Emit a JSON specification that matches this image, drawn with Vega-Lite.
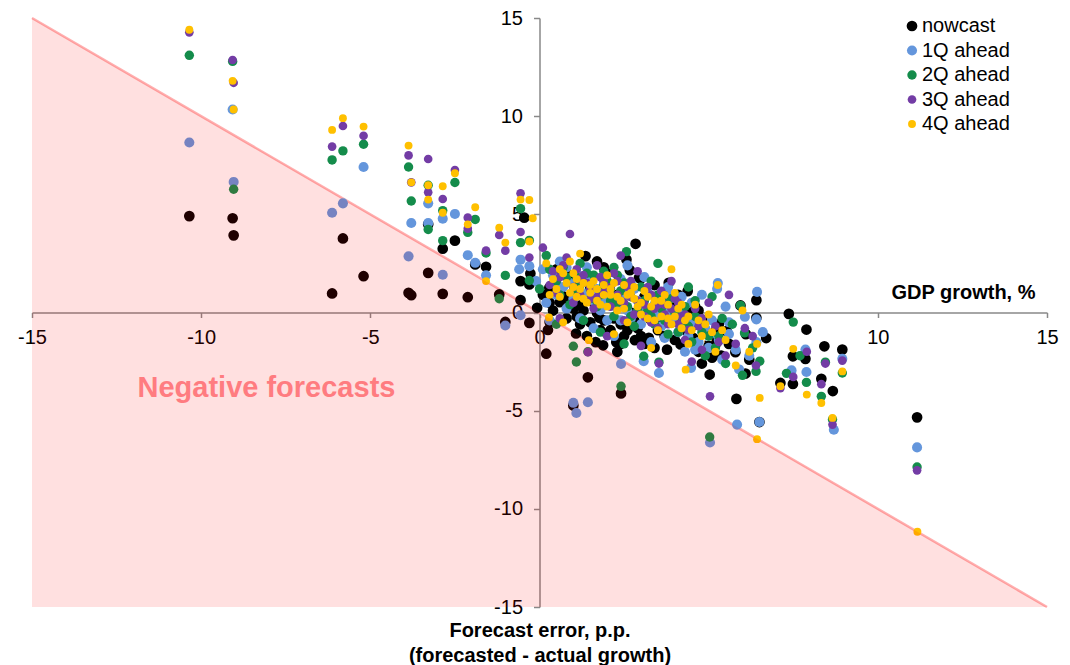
{
"$schema":"https://vega.github.io/schema/vega-lite/v6.json",
"width":1015,"height":589,
"autosize":{"type":"none"},
"padding":{"left":32,"top":18,"right":23,"bottom":58},
"background":"#ffffff",
"config":{"view":{"stroke":null},
"axis":{"grid":false,"domainColor":"#898989","tickColor":"#898989","domainWidth":1.5,"tickWidth":1.5,"tickSize":5,"labelFont":"Liberation Sans","labelFontSize":20,"labelColor":"#000000","labelPadding":10,"labelFlush":false,"labelOverlap":false,"labelBound":false,"labelExpr":"replace(datum.label, '\u2212', '-')","titleFont":"Liberation Sans","titleFontSize":20,"titleFontWeight":"bold","titleColor":"#000000"},
"legend":{"labelFont":"Liberation Sans","labelFontSize":20,"labelColor":"#000000"}},
"encoding":{
"x":{"field":"x","type":"quantitative","scale":{"domain":[-15,15],"nice":false,"zero":false},
 "axis":{"orient":"bottom","zindex":0,"offset":-294.5,"values":[-15,-10,-5,0,5,10,15],"title":"GDP growth, %","titleX":1003,"titleY":-20,"titleAlign":"right","titleBaseline":"middle","titleAnchor":null}},
"y":{"field":"y","type":"quantitative","scale":{"domain":[-15,15],"nice":false,"zero":false},
 "axis":{"orient":"left","zindex":0,"offset":-507.5,"values":[-15,-10,-5,0,5,10,15],"tickSize":6,"labelPadding":11,"title":["Forecast error, p.p.","(forecasted - actual growth)"],"titleAngle":0,"titleX":0,"titleY":602,"titleAlign":"center","titleBaseline":"top","titleLineHeight":25,"titleAnchor":null}}
},
"layer":[
{"data":{"values":[{"x":-15,"y":15},{"x":15,"y":-15}]},
 "mark":{"type":"line","color":"#ffb0b0","strokeWidth":2.5}},
{"data":{"values":[
{"series":"nowcast","x":-10.35,"y":4.91},{"series":"nowcast","x":-9.07,"y":4.8},{"series":"nowcast","x":-9.04,"y":3.93},{"series":"nowcast","x":-6.13,"y":0.97},{"series":"nowcast","x":-5.81,"y":3.77},{"series":"nowcast","x":-5.2,"y":1.85},{"series":"nowcast","x":-3.87,"y":1.0},{"series":"nowcast","x":-3.79,"y":0.88},{"series":"nowcast","x":-3.29,"y":4.49},{"series":"nowcast","x":-3.29,"y":2.02},{"series":"nowcast","x":-2.86,"y":3.25},{"series":"nowcast","x":-2.86,"y":0.95},{"series":"nowcast","x":-2.5,"y":3.66},{"series":"nowcast","x":-2.12,"y":0.78},{"series":"nowcast","x":-1.9,"y":2.45},{"series":"nowcast","x":-1.58,"y":2.33},{"series":"nowcast","x":-1.19,"y":0.92},{"series":"nowcast","x":-1.01,"y":-0.48},{"series":"nowcast","x":-0.45,"y":4.83},{"series":"nowcast","x":-0.56,"y":1.6},{"series":"nowcast","x":-0.56,"y":0.63},{"series":"nowcast","x":-0.3,"y":-0.53},{"series":"nowcast","x":-0.3,"y":1.43},{"series":"nowcast","x":-0.27,"y":1.99},{"series":"nowcast","x":-0.07,"y":0.24},{"series":"nowcast","x":0.3,"y":-0.49},{"series":"nowcast","x":0.25,"y":-0.89},{"series":"nowcast","x":0.2,"y":-2.1},
{"series":"nowcast","x":0.29,"y":1.26},{"series":"nowcast","x":0.6,"y":0.53},{"series":"nowcast","x":0.74,"y":0.8},{"series":"nowcast","x":1.08,"y":-1.07},{"series":"nowcast","x":1.21,"y":0.36},{"series":"nowcast","x":1.36,"y":2.87},{"series":"nowcast","x":1.39,"y":0.66},{"series":"nowcast","x":1.66,"y":-1.51},{"series":"nowcast","x":1.7,"y":-0.02},{"series":"nowcast","x":1.77,"y":-0.27},{"series":"nowcast","x":1.88,"y":-1.67},{"series":"nowcast","x":2.0,"y":-1.07},{"series":"nowcast","x":2.27,"y":-1.51},{"series":"nowcast","x":2.57,"y":2.7},{"series":"nowcast","x":2.67,"y":2.16},{"series":"nowcast","x":2.82,"y":-1.41},{"series":"nowcast","x":2.84,"y":3.5},{"series":"nowcast","x":2.94,"y":1.77},{"series":"nowcast","x":2.99,"y":1.72},{"series":"nowcast","x":3.23,"y":-1.29},{"series":"nowcast","x":3.28,"y":-0.36},{"series":"nowcast","x":3.67,"y":1.0},{"series":"nowcast","x":3.77,"y":-1.89},{"series":"nowcast","x":3.82,"y":1.51},{"series":"nowcast","x":4.17,"y":-1.63},{"series":"nowcast","x":4.38,"y":1.09},{"series":"nowcast","x":4.44,"y":-0.02},{"series":"nowcast","x":4.54,"y":-1.29},{"series":"nowcast","x":4.81,"y":-0.36},{"series":"nowcast","x":5.03,"y":-3.16},{"series":"nowcast","x":5.2,"y":-0.95},{"series":"nowcast","x":5.23,"y":-1.55},{"series":"nowcast","x":5.37,"y":-2.19},{"series":"nowcast","x":5.53,"y":-0.95},{"series":"nowcast","x":5.79,"y":-2.02},{"series":"nowcast","x":5.82,"y":-4.4},{"series":"nowcast","x":5.94,"y":0.36},{"series":"nowcast","x":6.09,"y":-3.11},{"series":"nowcast","x":6.41,"y":0.63},{"series":"nowcast","x":6.41,"y":-0.27},{"series":"nowcast","x":6.5,"y":-5.58},{"series":"nowcast","x":7.12,"y":-3.59},{"series":"nowcast","x":7.37,"y":-0.07},{"series":"nowcast","x":7.49,"y":-2.23},{"series":"nowcast","x":7.49,"y":-3.64},{"series":"nowcast","x":7.86,"y":-2.36},{"series":"nowcast","x":7.89,"y":-0.87},{"series":"nowcast","x":8.33,"y":-3.38},{"series":"nowcast","x":8.42,"y":-1.72},{"series":"nowcast","x":8.67,"y":-4.0},{"series":"nowcast","x":8.95,"y":-1.89},{"series":"nowcast","x":11.16,"y":-5.34},{"series":"nowcast","x":1.43,"y":-3.3},{"series":"nowcast","x":2.41,"y":-4.12},{"series":"nowcast","x":1.0,"y":-4.74},{"series":"nowcast","x":0.9,"y":1.9},{"series":"nowcast","x":1.5,"y":1.3},{"series":"nowcast","x":2.2,"y":0.4},{"series":"nowcast","x":2.4,"y":-0.6},{"series":"nowcast","x":3.0,"y":0.3},{"series":"nowcast","x":3.5,"y":-0.9},{"series":"nowcast","x":4.0,"y":0.4},{"series":"nowcast","x":1.9,"y":2.3},{"series":"nowcast","x":0.5,"y":2.2},{"series":"nowcast","x":3.1,"y":-1.6},{"series":"nowcast","x":4.7,"y":-2.0},{"series":"nowcast","x":6.1,"y":-1.1},
{"series":"nowcast","x":0.8,"y":-0.3},{"series":"nowcast","x":1.0,"y":0.2},{"series":"nowcast","x":1.2,"y":-0.6},{"series":"nowcast","x":1.4,"y":-1.2},{"series":"nowcast","x":1.6,"y":0.5},{"series":"nowcast","x":1.9,"y":-0.4},{"series":"nowcast","x":2.1,"y":-0.9},{"series":"nowcast","x":2.3,"y":0.9},{"series":"nowcast","x":2.5,"y":-1.2},{"series":"nowcast","x":2.7,"y":0.0},{"series":"nowcast","x":2.9,"y":-0.8},{"series":"nowcast","x":3.1,"y":0.8},{"series":"nowcast","x":3.3,"y":-0.2},{"series":"nowcast","x":3.5,"y":0.5},{"series":"nowcast","x":3.7,"y":-1.2},{"series":"nowcast","x":3.9,"y":-0.5},{"series":"nowcast","x":4.1,"y":0.9},{"series":"nowcast","x":4.3,"y":-0.9},{"series":"nowcast","x":4.6,"y":0.3},{"series":"nowcast","x":4.9,"y":-1.0},{"series":"nowcast","x":5.1,"y":-2.3},{"series":"nowcast","x":5.6,"y":-1.6},{"series":"nowcast","x":6.2,"y":-2.4},{"series":"nowcast","x":0.4,"y":0.1},{"series":"nowcast","x":0.1,"y":0.9},{"series":"nowcast","x":1.1,"y":1.6},{"series":"nowcast","x":2.0,"y":2.0},{"series":"nowcast","x":3.4,"y":1.4},{"series":"nowcast","x":4.8,"y":-2.6},{"series":"nowcast","x":6.7,"y":-1.3},
{"series":"nowcast","x":0.6,"y":1.1},{"series":"nowcast","x":0.9,"y":0.6},{"series":"nowcast","x":1.3,"y":0.1},{"series":"nowcast","x":1.5,"y":-0.5},{"series":"nowcast","x":1.8,"y":-0.9},{"series":"nowcast","x":2.2,"y":-0.3},{"series":"nowcast","x":2.4,"y":-1.6},{"series":"nowcast","x":2.6,"y":-0.9},{"series":"nowcast","x":2.8,"y":-0.4},{"series":"nowcast","x":3.0,"y":-1.2},{"series":"nowcast","x":3.2,"y":0.0},{"series":"nowcast","x":3.4,"y":-1.8},{"series":"nowcast","x":3.6,"y":-0.4},{"series":"nowcast","x":3.8,"y":0.2},{"series":"nowcast","x":4.0,"y":-1.4},{"series":"nowcast","x":4.2,"y":-0.5},{"series":"nowcast","x":4.5,"y":-0.7},{"series":"nowcast","x":4.7,"y":0.1},{"series":"nowcast","x":5.0,"y":-1.7},{"series":"nowcast","x":5.3,"y":-0.6},{"series":"nowcast","x":0.3,"y":0.5},{"series":"nowcast","x":1.1,"y":-0.2},{"series":"nowcast","x":2.0,"y":0.8},{"series":"nowcast","x":1.7,"y":2.6},{"series":"nowcast","x":2.3,"y":-2.0},
{"series":"1Q ahead","x":-10.35,"y":8.66},{"series":"1Q ahead","x":-9.07,"y":10.34},{"series":"1Q ahead","x":-9.04,"y":6.65},{"series":"1Q ahead","x":-6.13,"y":5.08},{"series":"1Q ahead","x":-5.81,"y":5.56},{"series":"1Q ahead","x":-5.2,"y":7.41},{"series":"1Q ahead","x":-3.87,"y":2.86},{"series":"1Q ahead","x":-3.79,"y":4.56},{"series":"1Q ahead","x":-3.29,"y":5.56},{"series":"1Q ahead","x":-3.29,"y":4.56},{"series":"1Q ahead","x":-2.86,"y":4.78},{"series":"1Q ahead","x":-2.86,"y":1.92},{"series":"1Q ahead","x":-2.5,"y":5.02},{"series":"1Q ahead","x":-2.12,"y":2.92},{"series":"1Q ahead","x":-1.9,"y":2.53},{"series":"1Q ahead","x":-1.58,"y":1.9},{"series":"1Q ahead","x":-1.01,"y":-0.66},{"series":"1Q ahead","x":-0.56,"y":2.69},{"series":"1Q ahead","x":-0.56,"y":-0.14},{"series":"1Q ahead","x":-0.3,"y":2.36},{"series":"1Q ahead","x":-0.6,"y":2.2},
{"series":"1Q ahead","x":0.1,"y":2.2},{"series":"1Q ahead","x":0.4,"y":1.9},{"series":"1Q ahead","x":0.6,"y":2.6},{"series":"1Q ahead","x":0.9,"y":1.5},{"series":"1Q ahead","x":1.1,"y":2.0},{"series":"1Q ahead","x":1.3,"y":0.9},{"series":"1Q ahead","x":1.5,"y":1.7},{"series":"1Q ahead","x":1.7,"y":1.2},{"series":"1Q ahead","x":1.9,"y":0.5},{"series":"1Q ahead","x":2.1,"y":1.4},{"series":"1Q ahead","x":2.3,"y":0.2},{"series":"1Q ahead","x":2.5,"y":0.9},{"series":"1Q ahead","x":2.7,"y":-0.3},{"series":"1Q ahead","x":2.9,"y":0.6},{"series":"1Q ahead","x":3.1,"y":1.8},{"series":"1Q ahead","x":3.2,"y":-0.1},{"series":"1Q ahead","x":3.4,"y":0.4},{"series":"1Q ahead","x":3.6,"y":-0.7},{"series":"1Q ahead","x":3.8,"y":1.3},{"series":"1Q ahead","x":4.0,"y":-0.4},{"series":"1Q ahead","x":4.2,"y":0.1},{"series":"1Q ahead","x":4.4,"y":-1.2},{"series":"1Q ahead","x":4.6,"y":-0.6},{"series":"1Q ahead","x":4.8,"y":0.9},{"series":"1Q ahead","x":5.0,"y":-1.8},{"series":"1Q ahead","x":5.25,"y":1.21},{"series":"1Q ahead","x":5.27,"y":1.5},{"series":"1Q ahead","x":5.4,"y":-2.4},{"series":"1Q ahead","x":5.6,"y":-1.1},{"series":"1Q ahead","x":5.9,"y":-2.9},{"series":"1Q ahead","x":6.07,"y":-0.22},{"series":"1Q ahead","x":6.43,"y":1.05},{"series":"1Q ahead","x":6.41,"y":-1.51},{"series":"1Q ahead","x":6.41,"y":-0.35},{"series":"1Q ahead","x":7.86,"y":-1.89},{"series":"1Q ahead","x":7.89,"y":-3.03},{"series":"1Q ahead","x":7.45,"y":-2.95},{"series":"1Q ahead","x":8.95,"y":-2.36},{"series":"1Q ahead","x":8.7,"y":-5.97},{"series":"1Q ahead","x":5.84,"y":-5.71},{"series":"1Q ahead","x":5.04,"y":-6.62},{"series":"1Q ahead","x":6.5,"y":-5.58},{"series":"1Q ahead","x":11.16,"y":-6.87},{"series":"1Q ahead","x":1.43,"y":-4.57},{"series":"1Q ahead","x":1.0,"y":-4.6},{"series":"1Q ahead","x":1.09,"y":-5.12},{"series":"1Q ahead","x":2.41,"y":-2.62},{"series":"1Q ahead","x":3.08,"y":-2.48},{"series":"1Q ahead","x":3.53,"y":-3.08},{"series":"1Q ahead","x":4.48,"y":-2.82},{"series":"1Q ahead","x":0.3,"y":-0.4},{"series":"1Q ahead","x":1.6,"y":-0.8},{"series":"1Q ahead","x":2.2,"y":-1.2},{"series":"1Q ahead","x":3.3,"y":-1.5},{"series":"1Q ahead","x":4.3,"y":-2.0},{"series":"1Q ahead","x":5.5,"y":0.3},{"series":"1Q ahead","x":0.8,"y":0.2},{"series":"1Q ahead","x":2.6,"y":2.4},{"series":"1Q ahead","x":3.9,"y":0.9},
{"series":"1Q ahead","x":0.5,"y":0.9},{"series":"1Q ahead","x":0.7,"y":1.3},{"series":"1Q ahead","x":1.2,"y":1.1},{"series":"1Q ahead","x":1.4,"y":2.3},{"series":"1Q ahead","x":1.8,"y":0.1},{"series":"1Q ahead","x":2.0,"y":0.9},{"series":"1Q ahead","x":2.4,"y":1.7},{"series":"1Q ahead","x":2.6,"y":0.1},{"series":"1Q ahead","x":2.8,"y":1.2},{"series":"1Q ahead","x":3.0,"y":-0.6},{"series":"1Q ahead","x":3.5,"y":0.8},{"series":"1Q ahead","x":3.7,"y":0.1},{"series":"1Q ahead","x":4.1,"y":-1.0},{"series":"1Q ahead","x":4.5,"y":0.5},{"series":"1Q ahead","x":4.7,"y":-1.5},{"series":"1Q ahead","x":5.1,"y":-0.4},{"series":"1Q ahead","x":5.3,"y":-1.4},{"series":"1Q ahead","x":5.8,"y":-1.9},{"series":"1Q ahead","x":6.2,"y":-2.2},{"series":"1Q ahead","x":6.6,"y":-1.0},{"series":"1Q ahead","x":-0.1,"y":1.6},{"series":"1Q ahead","x":0.2,"y":0.5},
{"series":"1Q ahead","x":0.8,"y":2.3},{"series":"1Q ahead","x":1.0,"y":0.7},{"series":"1Q ahead","x":1.6,"y":0.6},{"series":"1Q ahead","x":1.9,"y":1.6},{"series":"1Q ahead","x":2.2,"y":0.6},{"series":"1Q ahead","x":2.4,"y":-0.4},{"series":"1Q ahead","x":2.7,"y":1.5},{"series":"1Q ahead","x":3.0,"y":0.2},{"series":"1Q ahead","x":3.2,"y":1.0},{"series":"1Q ahead","x":3.5,"y":-0.2},{"series":"1Q ahead","x":3.9,"y":-0.2},{"series":"1Q ahead","x":4.2,"y":0.8},{"series":"1Q ahead","x":4.4,"y":-0.3},{"series":"1Q ahead","x":4.6,"y":-1.9},{"series":"1Q ahead","x":4.9,"y":-0.8},{"series":"1Q ahead","x":1.2,"y":-0.3},{"series":"1Q ahead","x":0.5,"y":1.5},{"series":"1Q ahead","x":3.7,"y":-1.3},{"series":"1Q ahead","x":5.6,"y":-0.5},{"series":"1Q ahead","x":2.0,"y":-0.4},
{"series":"2Q ahead","x":-10.35,"y":13.1},{"series":"2Q ahead","x":-9.07,"y":12.79},{"series":"2Q ahead","x":-9.04,"y":6.28},{"series":"2Q ahead","x":-6.13,"y":7.77},{"series":"2Q ahead","x":-5.81,"y":8.23},{"series":"2Q ahead","x":-5.2,"y":8.57},{"series":"2Q ahead","x":-3.87,"y":7.41},{"series":"2Q ahead","x":-3.79,"y":5.68},{"series":"2Q ahead","x":-3.29,"y":6.48},{"series":"2Q ahead","x":-3.29,"y":4.23},{"series":"2Q ahead","x":-2.86,"y":5.19},{"series":"2Q ahead","x":-2.86,"y":3.66},{"series":"2Q ahead","x":-2.5,"y":6.62},{"series":"2Q ahead","x":-2.12,"y":4.08},{"series":"2Q ahead","x":-1.9,"y":4.74},{"series":"2Q ahead","x":-1.58,"y":3.03},{"series":"2Q ahead","x":-1.19,"y":0.7},{"series":"2Q ahead","x":-1.01,"y":1.89},{"series":"2Q ahead","x":-0.56,"y":5.29},{"series":"2Q ahead","x":-0.56,"y":3.56},{"series":"2Q ahead","x":-0.3,"y":3.67},{"series":"2Q ahead","x":-0.3,"y":1.63},
{"series":"2Q ahead","x":0.2,"y":2.9},{"series":"2Q ahead","x":0.5,"y":1.6},{"series":"2Q ahead","x":0.7,"y":2.3},{"series":"2Q ahead","x":1.0,"y":1.1},{"series":"2Q ahead","x":1.2,"y":2.5},{"series":"2Q ahead","x":1.4,"y":0.6},{"series":"2Q ahead","x":1.6,"y":1.9},{"series":"2Q ahead","x":1.8,"y":0.9},{"series":"2Q ahead","x":2.0,"y":1.6},{"series":"2Q ahead","x":2.2,"y":-0.2},{"series":"2Q ahead","x":2.4,"y":1.1},{"series":"2Q ahead","x":2.57,"y":3.1},{"series":"2Q ahead","x":2.6,"y":0.3},{"series":"2Q ahead","x":2.8,"y":-0.7},{"series":"2Q ahead","x":3.0,"y":1.3},{"series":"2Q ahead","x":3.2,"y":0.1},{"series":"2Q ahead","x":3.5,"y":2.5},{"series":"2Q ahead","x":3.7,"y":-0.4},{"series":"2Q ahead","x":3.9,"y":0.7},{"series":"2Q ahead","x":4.1,"y":-1.0},{"series":"2Q ahead","x":4.3,"y":0.3},{"series":"2Q ahead","x":4.5,"y":-1.5},{"series":"2Q ahead","x":4.7,"y":-0.3},{"series":"2Q ahead","x":4.9,"y":-2.2},{"series":"2Q ahead","x":5.1,"y":0.8},{"series":"2Q ahead","x":5.3,"y":-1.2},{"series":"2Q ahead","x":5.5,"y":-2.6},{"series":"2Q ahead","x":5.94,"y":0.36},{"series":"2Q ahead","x":6.06,"y":-1.04},{"series":"2Q ahead","x":6.51,"y":-2.48},{"series":"2Q ahead","x":6.4,"y":-3.0},{"series":"2Q ahead","x":7.5,"y":-0.49},{"series":"2Q ahead","x":7.7,"y":-2.2},{"series":"2Q ahead","x":7.89,"y":-3.56},{"series":"2Q ahead","x":7.3,"y":-3.1},{"series":"2Q ahead","x":8.45,"y":-2.53},{"series":"2Q ahead","x":8.33,"y":-4.27},{"series":"2Q ahead","x":8.95,"y":-3.08},{"series":"2Q ahead","x":8.66,"y":-5.45},{"series":"2Q ahead","x":11.16,"y":-7.87},{"series":"2Q ahead","x":5.03,"y":-6.34},{"series":"2Q ahead","x":2.41,"y":-3.76},{"series":"2Q ahead","x":1.0,"y":-1.72},{"series":"2Q ahead","x":1.09,"y":-2.52},{"series":"2Q ahead","x":1.43,"y":-2.0},{"series":"2Q ahead","x":3.08,"y":-2.23},{"series":"2Q ahead","x":3.53,"y":-2.53},{"series":"2Q ahead","x":0.5,"y":-0.6},{"series":"2Q ahead","x":1.8,"y":-1.0},{"series":"2Q ahead","x":2.5,"y":-1.6},{"series":"2Q ahead","x":6.0,"y":-3.2},{"series":"2Q ahead","x":4.4,"y":1.3},{"series":"2Q ahead","x":5.7,"y":-0.6},
{"series":"2Q ahead","x":0.3,"y":2.2},{"series":"2Q ahead","x":0.9,"y":0.4},{"series":"2Q ahead","x":1.1,"y":1.8},{"series":"2Q ahead","x":1.5,"y":1.2},{"series":"2Q ahead","x":1.7,"y":0.3},{"series":"2Q ahead","x":1.9,"y":2.1},{"series":"2Q ahead","x":2.1,"y":0.6},{"series":"2Q ahead","x":2.3,"y":1.9},{"series":"2Q ahead","x":2.7,"y":0.8},{"series":"2Q ahead","x":2.9,"y":0.1},{"series":"2Q ahead","x":3.1,"y":0.6},{"series":"2Q ahead","x":3.3,"y":1.6},{"series":"2Q ahead","x":3.4,"y":-0.6},{"series":"2Q ahead","x":3.6,"y":0.2},{"series":"2Q ahead","x":3.8,"y":-1.1},{"series":"2Q ahead","x":4.2,"y":-0.5},{"series":"2Q ahead","x":4.6,"y":0.6},{"series":"2Q ahead","x":4.8,"y":-1.0},{"series":"2Q ahead","x":5.2,"y":-1.8},{"series":"2Q ahead","x":5.4,"y":-0.3},{"series":"2Q ahead","x":6.3,"y":-1.8},{"series":"2Q ahead","x":0.0,"y":1.2},
{"series":"2Q ahead","x":0.6,"y":0.9},{"series":"2Q ahead","x":0.8,"y":1.8},{"series":"2Q ahead","x":1.2,"y":1.4},{"series":"2Q ahead","x":1.4,"y":2.0},{"series":"2Q ahead","x":1.6,"y":0.7},{"series":"2Q ahead","x":1.9,"y":1.4},{"series":"2Q ahead","x":2.1,"y":1.2},{"series":"2Q ahead","x":2.3,"y":0.5},{"series":"2Q ahead","x":2.5,"y":1.5},{"series":"2Q ahead","x":2.7,"y":-0.2},{"series":"2Q ahead","x":3.0,"y":0.5},{"series":"2Q ahead","x":3.3,"y":-0.2},{"series":"2Q ahead","x":3.5,"y":0.9},{"series":"2Q ahead","x":3.7,"y":0.5},{"series":"2Q ahead","x":4.0,"y":0.0},{"series":"2Q ahead","x":4.4,"y":-0.7},{"series":"2Q ahead","x":4.6,"y":-0.2},{"series":"2Q ahead","x":5.0,"y":-1.2},{"series":"2Q ahead","x":1.3,"y":-0.4},{"series":"2Q ahead","x":2.2,"y":2.3},
{"series":"3Q ahead","x":-10.35,"y":14.27},{"series":"3Q ahead","x":-9.07,"y":12.86},{"series":"3Q ahead","x":-9.04,"y":11.7},{"series":"3Q ahead","x":-6.13,"y":8.45},{"series":"3Q ahead","x":-5.81,"y":9.5},{"series":"3Q ahead","x":-5.2,"y":9.0},{"series":"3Q ahead","x":-3.87,"y":8.0},{"series":"3Q ahead","x":-3.79,"y":6.63},{"series":"3Q ahead","x":-3.29,"y":7.82},{"series":"3Q ahead","x":-3.29,"y":6.12},{"series":"3Q ahead","x":-2.86,"y":5.78},{"series":"3Q ahead","x":-2.5,"y":7.26},{"series":"3Q ahead","x":-2.12,"y":4.83},{"series":"3Q ahead","x":-2.12,"y":4.27},{"series":"3Q ahead","x":-1.58,"y":3.15},{"series":"3Q ahead","x":-1.19,"y":3.95},{"series":"3Q ahead","x":-1.01,"y":3.15},{"series":"3Q ahead","x":-0.56,"y":6.07},{"series":"3Q ahead","x":-0.56,"y":4.1},{"series":"3Q ahead","x":-0.3,"y":2.8},
{"series":"3Q ahead","x":0.1,"y":3.3},{"series":"3Q ahead","x":0.4,"y":2.1},{"series":"3Q ahead","x":0.8,"y":2.8},{"series":"3Q ahead","x":1.0,"y":1.3},{"series":"3Q ahead","x":1.3,"y":1.9},{"series":"3Q ahead","x":1.5,"y":0.7},{"series":"3Q ahead","x":1.7,"y":2.4},{"series":"3Q ahead","x":1.9,"y":1.0},{"series":"3Q ahead","x":2.1,"y":0.3},{"series":"3Q ahead","x":2.3,"y":1.6},{"series":"3Q ahead","x":2.5,"y":-0.4},{"series":"3Q ahead","x":2.7,"y":0.8},{"series":"3Q ahead","x":2.9,"y":2.1},{"series":"3Q ahead","x":3.1,"y":-0.2},{"series":"3Q ahead","x":3.3,"y":0.9},{"series":"3Q ahead","x":3.5,"y":-0.8},{"series":"3Q ahead","x":3.7,"y":0.4},{"series":"3Q ahead","x":3.9,"y":1.6},{"series":"3Q ahead","x":4.1,"y":-0.6},{"series":"3Q ahead","x":4.3,"y":-1.4},{"series":"3Q ahead","x":4.6,"y":0.2},{"series":"3Q ahead","x":4.8,"y":-1.9},{"series":"3Q ahead","x":5.0,"y":0.5},{"series":"3Q ahead","x":5.2,"y":-0.7},{"series":"3Q ahead","x":5.04,"y":-4.27},{"series":"3Q ahead","x":5.5,"y":-2.2},{"series":"3Q ahead","x":5.8,"y":-1.6},{"series":"3Q ahead","x":6.07,"y":-0.8},{"series":"3Q ahead","x":6.4,"y":-2.7},{"series":"3Q ahead","x":7.12,"y":-3.85},{"series":"3Q ahead","x":7.5,"y":-3.28},{"series":"3Q ahead","x":7.9,"y":-2.0},{"series":"3Q ahead","x":8.33,"y":-3.65},{"series":"3Q ahead","x":8.45,"y":-2.6},{"series":"3Q ahead","x":8.95,"y":-2.45},{"series":"3Q ahead","x":8.66,"y":-5.71},{"series":"3Q ahead","x":11.16,"y":-8.04},{"series":"3Q ahead","x":1.43,"y":-2.02},{"series":"3Q ahead","x":3.53,"y":-2.6},{"series":"3Q ahead","x":0.6,"y":-0.3},{"series":"3Q ahead","x":2.0,"y":-1.2},{"series":"3Q ahead","x":3.0,"y":-1.7},{"series":"3Q ahead","x":4.5,"y":-2.5},{"series":"3Q ahead","x":2.4,"y":2.9},{"series":"3Q ahead","x":5.6,"y":0.9},{"series":"3Q ahead","x":0.9,"y":4.0},
{"series":"3Q ahead","x":0.3,"y":1.4},{"series":"3Q ahead","x":0.6,"y":1.8},{"series":"3Q ahead","x":1.1,"y":2.2},{"series":"3Q ahead","x":1.2,"y":0.9},{"series":"3Q ahead","x":1.4,"y":1.5},{"series":"3Q ahead","x":1.6,"y":0.2},{"series":"3Q ahead","x":1.8,"y":1.8},{"series":"3Q ahead","x":2.0,"y":1.1},{"series":"3Q ahead","x":2.2,"y":2.0},{"series":"3Q ahead","x":2.4,"y":0.6},{"series":"3Q ahead","x":2.6,"y":1.3},{"series":"3Q ahead","x":2.8,"y":-0.1},{"series":"3Q ahead","x":3.2,"y":1.3},{"series":"3Q ahead","x":3.4,"y":0.2},{"series":"3Q ahead","x":3.6,"y":1.1},{"series":"3Q ahead","x":3.8,"y":-0.6},{"series":"3Q ahead","x":4.0,"y":0.7},{"series":"3Q ahead","x":4.2,"y":-0.2},{"series":"3Q ahead","x":4.4,"y":-0.9},{"series":"3Q ahead","x":4.7,"y":-0.7},{"series":"3Q ahead","x":5.3,"y":-1.5},{"series":"3Q ahead","x":6.3,"y":-1.2},
{"series":"3Q ahead","x":0.5,"y":1.0},{"series":"3Q ahead","x":0.7,"y":2.4},{"series":"3Q ahead","x":1.0,"y":0.5},{"series":"3Q ahead","x":1.2,"y":1.7},{"series":"3Q ahead","x":1.5,"y":1.2},{"series":"3Q ahead","x":1.7,"y":0.8},{"series":"3Q ahead","x":1.9,"y":1.6},{"series":"3Q ahead","x":2.1,"y":1.3},{"series":"3Q ahead","x":2.3,"y":0.9},{"series":"3Q ahead","x":2.5,"y":0.5},{"series":"3Q ahead","x":2.7,"y":1.6},{"series":"3Q ahead","x":2.9,"y":0.6},{"series":"3Q ahead","x":3.1,"y":0.4},{"series":"3Q ahead","x":3.3,"y":-0.5},{"series":"3Q ahead","x":3.5,"y":0.4},{"series":"3Q ahead","x":3.7,"y":-0.1},{"series":"3Q ahead","x":3.9,"y":0.2},{"series":"3Q ahead","x":4.1,"y":0.5},{"series":"3Q ahead","x":4.3,"y":-0.1},{"series":"3Q ahead","x":4.8,"y":-0.3},
{"series":"4Q ahead","x":-10.35,"y":14.4},{"series":"4Q ahead","x":-9.07,"y":11.8},{"series":"4Q ahead","x":-9.04,"y":10.34},{"series":"4Q ahead","x":-6.13,"y":9.3},{"series":"4Q ahead","x":-5.81,"y":9.9},{"series":"4Q ahead","x":-5.2,"y":9.47},{"series":"4Q ahead","x":-3.87,"y":8.5},{"series":"4Q ahead","x":-3.79,"y":6.63},{"series":"4Q ahead","x":-3.29,"y":6.48},{"series":"4Q ahead","x":-3.29,"y":5.75},{"series":"4Q ahead","x":-2.86,"y":6.43},{"series":"4Q ahead","x":-2.86,"y":5.08},{"series":"4Q ahead","x":-2.5,"y":7.09},{"series":"4Q ahead","x":-2.12,"y":4.49},{"series":"4Q ahead","x":-1.9,"y":5.36},{"series":"4Q ahead","x":-1.58,"y":1.6},{"series":"4Q ahead","x":-1.19,"y":4.32},{"series":"4Q ahead","x":-1.01,"y":3.56},{"series":"4Q ahead","x":-0.56,"y":5.75},{"series":"4Q ahead","x":-0.3,"y":5.73},{"series":"4Q ahead","x":-0.3,"y":3.62},{"series":"4Q ahead","x":-0.2,"y":4.8},
{"series":"4Q ahead","x":0.2,"y":2.5},{"series":"4Q ahead","x":0.5,"y":1.2},{"series":"4Q ahead","x":0.7,"y":2.0},{"series":"4Q ahead","x":0.9,"y":2.6},{"series":"4Q ahead","x":1.1,"y":0.8},{"series":"4Q ahead","x":1.3,"y":1.5},{"series":"4Q ahead","x":1.5,"y":1.0},{"series":"4Q ahead","x":1.7,"y":1.2},{"series":"4Q ahead","x":1.8,"y":0.4},{"series":"4Q ahead","x":2.0,"y":1.9},{"series":"4Q ahead","x":2.1,"y":0.9},{"series":"4Q ahead","x":2.3,"y":0.1},{"series":"4Q ahead","x":2.5,"y":1.4},{"series":"4Q ahead","x":2.6,"y":-0.5},{"series":"4Q ahead","x":2.8,"y":0.7},{"series":"4Q ahead","x":3.0,"y":-0.1},{"series":"4Q ahead","x":3.1,"y":1.1},{"series":"4Q ahead","x":3.3,"y":0.3},{"series":"4Q ahead","x":3.5,"y":-0.9},{"series":"4Q ahead","x":3.6,"y":0.6},{"series":"4Q ahead","x":3.8,"y":-0.3},{"series":"4Q ahead","x":4.0,"y":1.0},{"series":"4Q ahead","x":4.2,"y":-0.8},{"series":"4Q ahead","x":4.4,"y":-1.6},{"series":"4Q ahead","x":4.6,"y":0.4},{"series":"4Q ahead","x":4.8,"y":-1.2},{"series":"4Q ahead","x":5.0,"y":-0.1},{"series":"4Q ahead","x":5.2,"y":-2.0},{"series":"4Q ahead","x":5.27,"y":1.4},{"series":"4Q ahead","x":5.5,"y":-1.4},{"series":"4Q ahead","x":5.8,"y":-2.7},{"series":"4Q ahead","x":6.43,"y":-1.6},{"series":"4Q ahead","x":6.51,"y":-4.35},{"series":"4Q ahead","x":6.43,"y":-6.45},{"series":"4Q ahead","x":7.5,"y":-1.85},{"series":"4Q ahead","x":7.12,"y":-3.75},{"series":"4Q ahead","x":7.9,"y":-4.18},{"series":"4Q ahead","x":8.33,"y":-4.61},{"series":"4Q ahead","x":8.95,"y":-3.0},{"series":"4Q ahead","x":8.66,"y":-5.37},{"series":"4Q ahead","x":11.17,"y":-11.17},{"series":"4Q ahead","x":4.32,"y":-2.91},{"series":"4Q ahead","x":1.46,"y":-1.41},{"series":"4Q ahead","x":0.7,"y":-0.5},{"series":"4Q ahead","x":2.2,"y":-1.1},{"series":"4Q ahead","x":3.3,"y":-1.8},{"series":"4Q ahead","x":6.0,"y":0.1},{"series":"4Q ahead","x":3.9,"y":2.2},{"series":"4Q ahead","x":1.2,"y":3.0},{"series":"4Q ahead","x":0.28,"y":-0.25},
{"series":"4Q ahead","x":0.4,"y":1.7},{"series":"4Q ahead","x":0.6,"y":0.8},{"series":"4Q ahead","x":0.8,"y":1.5},{"series":"4Q ahead","x":1.0,"y":2.0},{"series":"4Q ahead","x":1.2,"y":1.2},{"series":"4Q ahead","x":1.4,"y":0.5},{"series":"4Q ahead","x":1.6,"y":1.6},{"series":"4Q ahead","x":1.9,"y":1.4},{"series":"4Q ahead","x":2.2,"y":1.5},{"series":"4Q ahead","x":2.4,"y":0.6},{"series":"4Q ahead","x":2.7,"y":1.0},{"series":"4Q ahead","x":2.9,"y":0.3},{"series":"4Q ahead","x":3.2,"y":0.8},{"series":"4Q ahead","x":3.4,"y":-0.4},{"series":"4Q ahead","x":3.7,"y":0.9},{"series":"4Q ahead","x":3.9,"y":-0.6},{"series":"4Q ahead","x":4.1,"y":0.2},{"series":"4Q ahead","x":4.3,"y":-0.4},{"series":"4Q ahead","x":4.5,"y":-0.9},{"series":"4Q ahead","x":4.9,"y":-0.6},{"series":"4Q ahead","x":5.4,"y":-0.9},{"series":"4Q ahead","x":6.2,"y":-2.0},
{"series":"4Q ahead","x":0.3,"y":0.9},{"series":"4Q ahead","x":0.6,"y":2.2},{"series":"4Q ahead","x":0.9,"y":1.0},{"series":"4Q ahead","x":1.1,"y":1.7},{"series":"4Q ahead","x":1.3,"y":0.7},{"series":"4Q ahead","x":1.5,"y":1.4},{"series":"4Q ahead","x":1.7,"y":0.6},{"series":"4Q ahead","x":1.9,"y":0.9},{"series":"4Q ahead","x":2.1,"y":1.2},{"series":"4Q ahead","x":2.3,"y":0.8},{"series":"4Q ahead","x":2.5,"y":0.2},{"series":"4Q ahead","x":2.6,"y":0.9},{"series":"4Q ahead","x":2.8,"y":1.3},{"series":"4Q ahead","x":3.0,"y":0.5},{"series":"4Q ahead","x":3.2,"y":-0.3},{"series":"4Q ahead","x":3.4,"y":0.6},{"series":"4Q ahead","x":3.6,"y":-0.2},{"series":"4Q ahead","x":3.8,"y":0.4},{"series":"4Q ahead","x":4.0,"y":-0.2},{"series":"4Q ahead","x":4.2,"y":0.4},{"series":"4Q ahead","x":4.4,"y":-0.2},{"series":"4Q ahead","x":4.7,"y":-0.4},{"series":"4Q ahead","x":5.1,"y":-1.0},{"series":"4Q ahead","x":2.0,"y":0.3},{"series":"4Q ahead","x":1.0,"y":1.3}
]},
 "mark":{"type":"circle","opacity":1},
 "encoding":{
  "color":{"field":"series","type":"nominal","scale":{"domain":["nowcast","1Q ahead","2Q ahead","3Q ahead","4Q ahead"],"range":["#000000","#6496dc","#148c4b","#733ca5","#ffc000"]},
   "legend":{"orient":"none","legendX":870,"legendY":-2,"title":null,"rowPadding":4.5,"labelOffset":0,"symbolType":"circle","padding":0,"symbolStrokeWidth":0}},
  "size":{"field":"series","type":"nominal","scale":{"domain":["nowcast","1Q ahead","2Q ahead","3Q ahead","4Q ahead"],"range":[115,62,62,28,28]}}
 }},
{"data":{"values":[{"x":-15,"y":15},{"x":15,"y":-15}]},
 "mark":{"type":"area","color":"#ff0000","fillOpacity":0.12,"line":false},
 "encoding":{"y2":{"datum":-15}}},
{"data":{"values":[{"x":-8.07,"y":-3.87,"label":"Negative forecasts"}]},
 "mark":{"type":"text","color":"#ff7c80","fontSize":29,"fontWeight":"bold","font":"Liberation Sans","align":"center","baseline":"middle"},
 "encoding":{"text":{"field":"label","type":"nominal"}}}
]
}
